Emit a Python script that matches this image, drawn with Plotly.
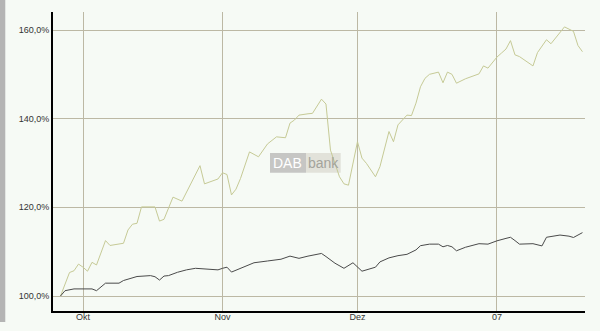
import plotly.graph_objects as go

# Green series (fund)
green_dates = [
    "2006-09-26", "2006-09-28", "2006-09-29", "2006-09-30", "2006-10-01", "2006-10-02",
    "2006-10-03", "2006-10-04", "2006-10-06", "2006-10-07", "2006-10-10", "2006-10-11",
    "2006-10-12", "2006-10-13", "2006-10-14", "2006-10-17", "2006-10-18", "2006-10-19",
    "2006-10-21", "2006-10-23", "2006-10-27", "2006-10-28", "2006-10-31", "2006-11-01",
    "2006-11-02", "2006-11-03", "2006-11-04", "2006-11-05", "2006-11-07", "2006-11-09",
    "2006-11-11", "2006-11-12", "2006-11-13", "2006-11-15", "2006-11-16", "2006-11-17",
    "2006-11-18", "2006-11-20", "2006-11-21", "2006-11-23", "2006-11-24", "2006-11-25",
    "2006-11-27", "2006-11-28", "2006-11-29", "2006-12-01", "2006-12-02", "2006-12-03",
    "2006-12-05", "2006-12-06", "2006-12-08", "2006-12-09", "2006-12-10", "2006-12-12",
    "2006-12-13", "2006-12-14", "2006-12-15", "2006-12-16", "2006-12-17", "2006-12-19",
    "2006-12-20", "2006-12-21", "2006-12-22", "2006-12-23", "2006-12-25", "2006-12-28",
    "2006-12-29", "2006-12-30", "2007-01-01", "2007-01-02", "2007-01-03", "2007-01-04",
    "2007-01-05", "2007-01-06", "2007-01-09", "2007-01-10", "2007-01-12", "2007-01-13",
    "2007-01-16", "2007-01-17", "2007-01-18", "2007-01-19", "2007-01-20",
]
green_values = [
    100.0, 105.3, 105.7, 107.2, 106.5, 105.6,
    107.6, 107.0, 112.5, 111.4, 111.9, 114.9,
    116.2, 116.4, 120.1, 120.1, 116.9, 117.3,
    122.3, 121.4, 129.4, 125.3, 126.4, 127.8,
    127.4, 122.8, 124.1, 126.5, 132.5, 131.4,
    134.3, 135.0, 135.9, 135.7, 139.0, 139.7,
    140.8, 141.1, 141.2, 144.4, 143.3, 132.9,
    126.9, 125.3, 125.0, 134.8, 131.1, 129.9,
    126.9, 129.2, 137.1, 134.8, 138.6, 140.8,
    140.7, 143.5, 147.2, 149.1, 150.0, 150.5,
    148.1, 150.5, 150.0, 148.0, 149.0, 150.1,
    151.9, 151.4, 153.9, 154.8, 155.7, 157.6,
    154.4, 154.0, 151.9, 154.9, 157.8, 156.9,
    160.7, 160.2, 159.7, 156.5, 155.1,
]

# Dark series (benchmark)
black_dates = [
    "2006-09-26", "2006-09-27", "2006-09-29", "2006-10-03", "2006-10-04", "2006-10-06",
    "2006-10-09", "2006-10-10", "2006-10-13", "2006-10-16", "2006-10-17", "2006-10-18",
    "2006-10-19", "2006-10-20", "2006-10-22", "2006-10-24", "2006-10-26", "2006-10-28",
    "2006-10-31", "2006-11-01", "2006-11-02", "2006-11-03", "2006-11-08", "2006-11-11",
    "2006-11-14", "2006-11-16", "2006-11-18", "2006-11-20", "2006-11-22", "2006-11-23",
    "2006-11-24", "2006-11-26", "2006-11-28", "2006-11-30", "2006-12-02", "2006-12-05",
    "2006-12-06", "2006-12-08", "2006-12-10", "2006-12-12", "2006-12-14", "2006-12-15",
    "2006-12-17", "2006-12-19", "2006-12-20", "2006-12-21", "2006-12-22", "2006-12-23",
    "2006-12-25", "2006-12-28", "2006-12-30", "2007-01-01", "2007-01-03", "2007-01-04",
    "2007-01-05", "2007-01-06", "2007-01-09", "2007-01-11", "2007-01-12", "2007-01-15",
    "2007-01-17", "2007-01-18", "2007-01-20",
]
black_values = [
    100.0, 101.2, 101.6, 101.6, 101.2, 102.9,
    102.9, 103.5, 104.4, 104.6, 104.35, 103.6,
    104.5, 104.6, 105.35, 105.9, 106.25, 106.1,
    105.9, 106.25, 106.5, 105.4, 107.5, 107.9,
    108.3, 109.0, 108.5, 109.0, 109.5, 109.6,
    108.9, 107.4, 106.25, 107.5, 105.6, 106.5,
    107.7, 108.6, 109.1, 109.4, 110.4, 111.35,
    111.7, 111.7, 111.1, 111.4, 111.1, 110.2,
    111.0, 111.8, 111.7, 112.45, 113.0, 113.25,
    112.5, 111.7, 111.8, 111.3, 113.25, 113.75,
    113.5, 113.2, 114.3,
]

x_tick_vals = ["2006-10-01", "2006-11-01", "2006-12-01", "2007-01-01"]
x_tick_text = ["Okt", "Nov", "Dez", "07"]
y_tick_vals = [100, 120, 140, 160]
y_tick_text = ["100,0%", "120,0%", "140,0%", "160,0%"]

BG = "#f6faf5"
GRID = "#bcb8a4"
FONT = "Liberation Sans, Arial, sans-serif"

fig = go.Figure()
fig.add_trace(go.Scatter(x=green_dates, y=green_values, mode="lines",
                         line=dict(color="#c6ca96", width=1), showlegend=False))
fig.add_trace(go.Scatter(x=black_dates, y=black_values, mode="lines",
                         line=dict(color="#4a4a4a", width=1), showlegend=False))

fig.update_layout(
    width=600, height=331,
    margin=dict(l=53, r=15, t=12, b=20, autoexpand=False),
    paper_bgcolor=BG, plot_bgcolor=BG,
    showlegend=False,
    font=dict(family=FONT, size=9, color="#333"),
)
fig.update_xaxes(
    type="date",
    range=["2006-09-24 08:00", "2007-01-20 13:30"],
    tickvals=x_tick_vals, ticktext=x_tick_text,
    showgrid=True, gridcolor=GRID, gridwidth=1,
    showline=True, linecolor="black", linewidth=2,
    ticks="", ticklabelstandoff=-4,
    zeroline=False, automargin=False,
)
fig.update_yaxes(
    range=[96.62, 164.06],
    tickvals=y_tick_vals, ticktext=y_tick_text,
    showgrid=True, gridcolor=GRID, gridwidth=1,
    showline=True, linecolor="black", linewidth=2,
    ticks="", zeroline=False, automargin=False,
)

# left grey bar of the page
fig.add_shape(type="rect", xref="paper", yref="paper",
              x0=-0.0996, x1=-0.0897, y0=-0.0368, y1=1.0401,
              fillcolor="#b4b4b4", line=dict(width=0), layer="below")

# DAB bank watermark
fig.add_shape(type="rect", xref="paper", yref="paper",
              x0=0.4079, x1=0.4756, y0=0.4625, y1=0.5284,
              fillcolor="#c6c6c4", line=dict(width=0), layer="below")
fig.add_shape(type="rect", xref="paper", yref="paper",
              x0=0.4756, x1=0.5408, y0=0.4625, y1=0.5284,
              fillcolor="#e2e2da", line=dict(width=0), layer="below")
fig.add_annotation(xref="paper", yref="paper", x=0.4417, y=0.4955,
                   text="DAB", showarrow=False,
                   font=dict(family=FONT, size=14, color="white"))
fig.add_annotation(xref="paper", yref="paper", x=0.5082, y=0.4955,
                   text="bank", showarrow=False,
                   font=dict(family=FONT, size=14, color="#a4a49c"))

fig.write_html("out.html")
